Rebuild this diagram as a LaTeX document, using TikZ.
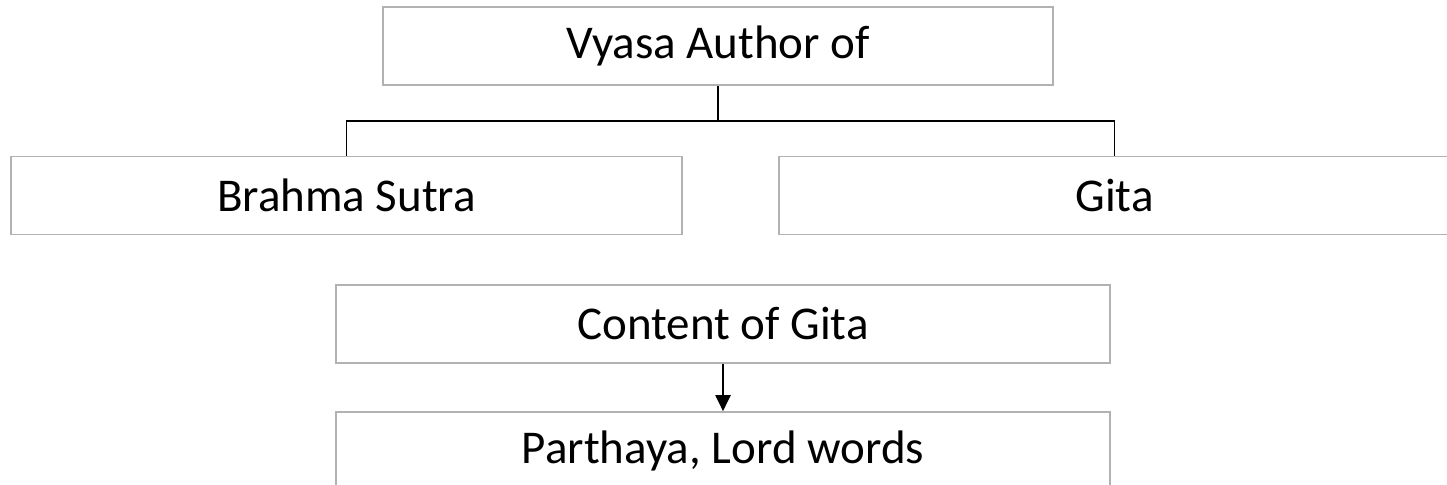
\documentclass[tikz,border=0pt]{standalone}
\usepackage{fontspec}
\setmainfont{Carlito}
\usetikzlibrary{arrows.meta}
\begin{document}
\begin{tikzpicture}
  [x=0.5pt,y=-0.5pt,every node/.style={rectangle,draw=black!30,line width=0.8pt,inner sep=0pt,minimum height=39pt,font=\fontsize{23.5}{28}\selectfont}]
  \useasboundingbox (0,0) rectangle (1447,485);
  \clip (0,0) rectangle (1447,485);
  \node[minimum width=335pt] (vyasa) at (718,46) {Vyasa Author of};
  \node[minimum width=335.5pt] (brahma) at (346.5,195.5) {Brahma Sutra};
  \node[minimum width=335.5pt] (gita) at (1114.5,195.5) {Gita};
  \node[minimum width=387pt] (content) at (723,324) {Content of Gita};
  \node[minimum width=387pt] (parthaya) at (723,451) {Parthaya, Lord words};
  \coordinate (split) at (718,121);

  \draw[line width=0.8pt] (vyasa) -- (split);
  \foreach \to in {brahma,gita}
    \draw[line width=0.8pt] (split) -| (\to);
  \draw[line width=1pt,-{Triangle[width=7.5pt,length=8pt]}] (content) -- (parthaya);
\end{tikzpicture}
\end{document}
